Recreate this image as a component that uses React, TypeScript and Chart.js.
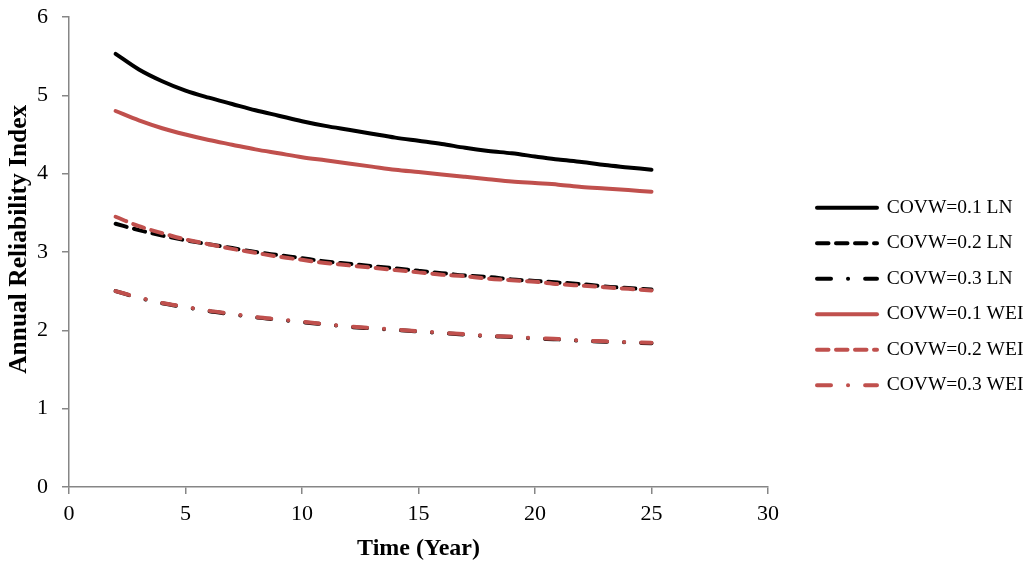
import React, { useEffect, useRef } from "react";
import { Chart, registerables } from "chart.js";

Chart.register(...registerables);

const years = [2, 3, 4, 5, 6, 7, 8, 9, 10, 11, 12, 13, 14, 15, 16, 17, 18, 19, 20, 21, 22, 23, 24, 25];
const ln01 = [5.53, 5.33, 5.18, 5.06, 4.97, 4.89, 4.81, 4.74, 4.67, 4.61, 4.56, 4.51, 4.46, 4.42, 4.38, 4.33, 4.29, 4.26, 4.22, 4.18, 4.15, 4.11, 4.08, 4.05];
const ln02 = [3.36, 3.28, 3.21, 3.15, 3.1, 3.05, 3.0, 2.96, 2.92, 2.88, 2.85, 2.82, 2.79, 2.76, 2.73, 2.7, 2.68, 2.65, 2.63, 2.61, 2.59, 2.56, 2.54, 2.52];
const ln03 = [2.5, 2.415, 2.345, 2.295, 2.245, 2.205, 2.165, 2.135, 2.105, 2.075, 2.045, 2.025, 2.005, 1.985, 1.965, 1.945, 1.925, 1.915, 1.895, 1.885, 1.865, 1.855, 1.845, 1.835];
const wei01 = [4.8, 4.68, 4.58, 4.5, 4.43, 4.37, 4.31, 4.26, 4.21, 4.17, 4.13, 4.09, 4.05, 4.02, 3.99, 3.96, 3.93, 3.9, 3.88, 3.86, 3.83, 3.81, 3.79, 3.77];
const wei02 = [3.45, 3.33, 3.24, 3.16, 3.1, 3.04, 2.99, 2.94, 2.9, 2.86, 2.83, 2.8, 2.77, 2.74, 2.71, 2.69, 2.66, 2.64, 2.62, 2.59, 2.57, 2.55, 2.53, 2.51];
const wei03 = [2.5, 2.42, 2.35, 2.3, 2.25, 2.21, 2.17, 2.14, 2.11, 2.08, 2.05, 2.03, 2.01, 1.99, 1.97, 1.95, 1.93, 1.92, 1.9, 1.89, 1.87, 1.86, 1.85, 1.84];
const seriesLabels = ["COVW=0.1 LN", "COVW=0.2 LN", "COVW=0.3 LN", "COVW=0.1 WEI", "COVW=0.2 WEI", "COVW=0.3 WEI"];

const BLACK = "#000000";
const RED = "#C0504D";
const AXIS = "#868686";
const FONT = "'Liberation Serif', 'Times New Roman', serif";
const DASH = [11.5, 7.5];
const DASHDOT = [14, 17, 0.1, 17];

export default function App() {
  const ref = useRef<HTMLCanvasElement>(null);
  useEffect(() => {
    document.body.style.margin = "0";
    const toPts = (arr: number[]) => arr.map((v, i) => ({ x: years[i], y: v }));
    const styles = [
      { data: ln01, color: BLACK, dash: [] as number[], order: 2 },
      { data: ln02, color: BLACK, dash: DASH, order: 2 },
      { data: ln03, color: BLACK, dash: DASHDOT, order: 2 },
      { data: wei01, color: RED, dash: [] as number[], order: 1 },
      { data: wei02, color: RED, dash: DASH, order: 1 },
      { data: wei03, color: RED, dash: DASHDOT, order: 1 },
    ];
    const chart = new Chart(ref.current!, {
      type: "line",
      data: {
        datasets: styles.map((s, i) => ({
          label: seriesLabels[i],
          data: toPts(s.data),
          borderColor: s.color,
          backgroundColor: s.color,
          borderWidth: 4,
          borderDash: s.dash,
          borderCapStyle: "round" as const,
          pointRadius: 0,
          cubicInterpolationMode: "monotone" as const,
          fill: false,
          order: s.order,
        })),
      },
      options: {
        animation: false,
        responsive: false,
        maintainAspectRatio: false,
        layout: { padding: { top: 17, left: 0, right: 0, bottom: 0 } },
        plugins: {
          tooltip: { enabled: false },
          legend: {
            position: "right",
            maxWidth: 223,
            title: { display: true, text: "", font: { size: 10 }, padding: { top: 1, bottom: 1 } },
            labels: {
              usePointStyle: true,
              pointStyle: "line",
              pointStyleWidth: 60,
              boxHeight: 19.5,
              color: "#000",
              padding: 16,
              font: { family: FONT, size: 19.5 },
              sort: (a: any, b: any) => a.datasetIndex - b.datasetIndex,
              generateLabels: (c: any) => {
                const items = (Chart.defaults.plugins.legend.labels as any).generateLabels(c);
                return items.map((it: any) => {
                  const ds = c.data.datasets[it.datasetIndex];
                  return {
                    ...it,
                    lineDash: ds.borderDash,
                    lineCap: "round",
                    lineWidth: 4,
                    strokeStyle: ds.borderColor,
                    fillStyle: ds.borderColor,
                  };
                });
              },
            },
          },
        },
        scales: {
          x: {
            type: "linear",
            min: 0,
            max: 30,
            afterFit: (s: any) => { s.height = 75; s.paddingLeft = 0; s.paddingRight = 0; },
            ticks: { stepSize: 5, color: "#000", font: { family: FONT, size: 22 }, padding: 7 },
            grid: { display: true, drawOnChartArea: false, drawTicks: true, tickLength: 7, color: AXIS, lineWidth: 1.5 },
            border: { color: AXIS, width: 1.5 },
            title: { display: true, text: "Time (Year)", color: "#000", font: { family: FONT, size: 24, weight: "bold", lineHeight: 1 }, padding: { top: 0, bottom: 1 } },
          },
          y: {
            min: 0,
            max: 6,
            afterFit: (s: any) => { s.width = 69; s.paddingTop = 0; s.paddingBottom = 0; },
            ticks: { stepSize: 1, color: "#000", font: { family: FONT, size: 22 }, padding: 14 },
            grid: { display: true, drawOnChartArea: false, drawTicks: true, tickLength: 7, color: AXIS, lineWidth: 1.5 },
            border: { color: AXIS, width: 1.5 },
            title: { display: true, text: "    Annual Reliability Index", color: "#000", font: { family: FONT, size: 25.5, weight: "bold", lineHeight: 1 }, padding: { top: 7, bottom: 0 } },
          },
          y2: {
            type: "linear",
            position: "right",
            display: true,
            afterFit: (s: any) => { s.width = 33; s.paddingTop = 0; s.paddingBottom = 0; },
            ticks: { display: false },
            grid: { display: false },
            border: { display: false },
          },
        },
      },
    });
    return () => chart.destroy();
  }, []);
  return (
    <div style={{ width: 1024, height: 562, background: "#fff" }}>
      <canvas ref={ref} width={1024} height={562} style={{ display: "block" }} />
    </div>
  );
}
